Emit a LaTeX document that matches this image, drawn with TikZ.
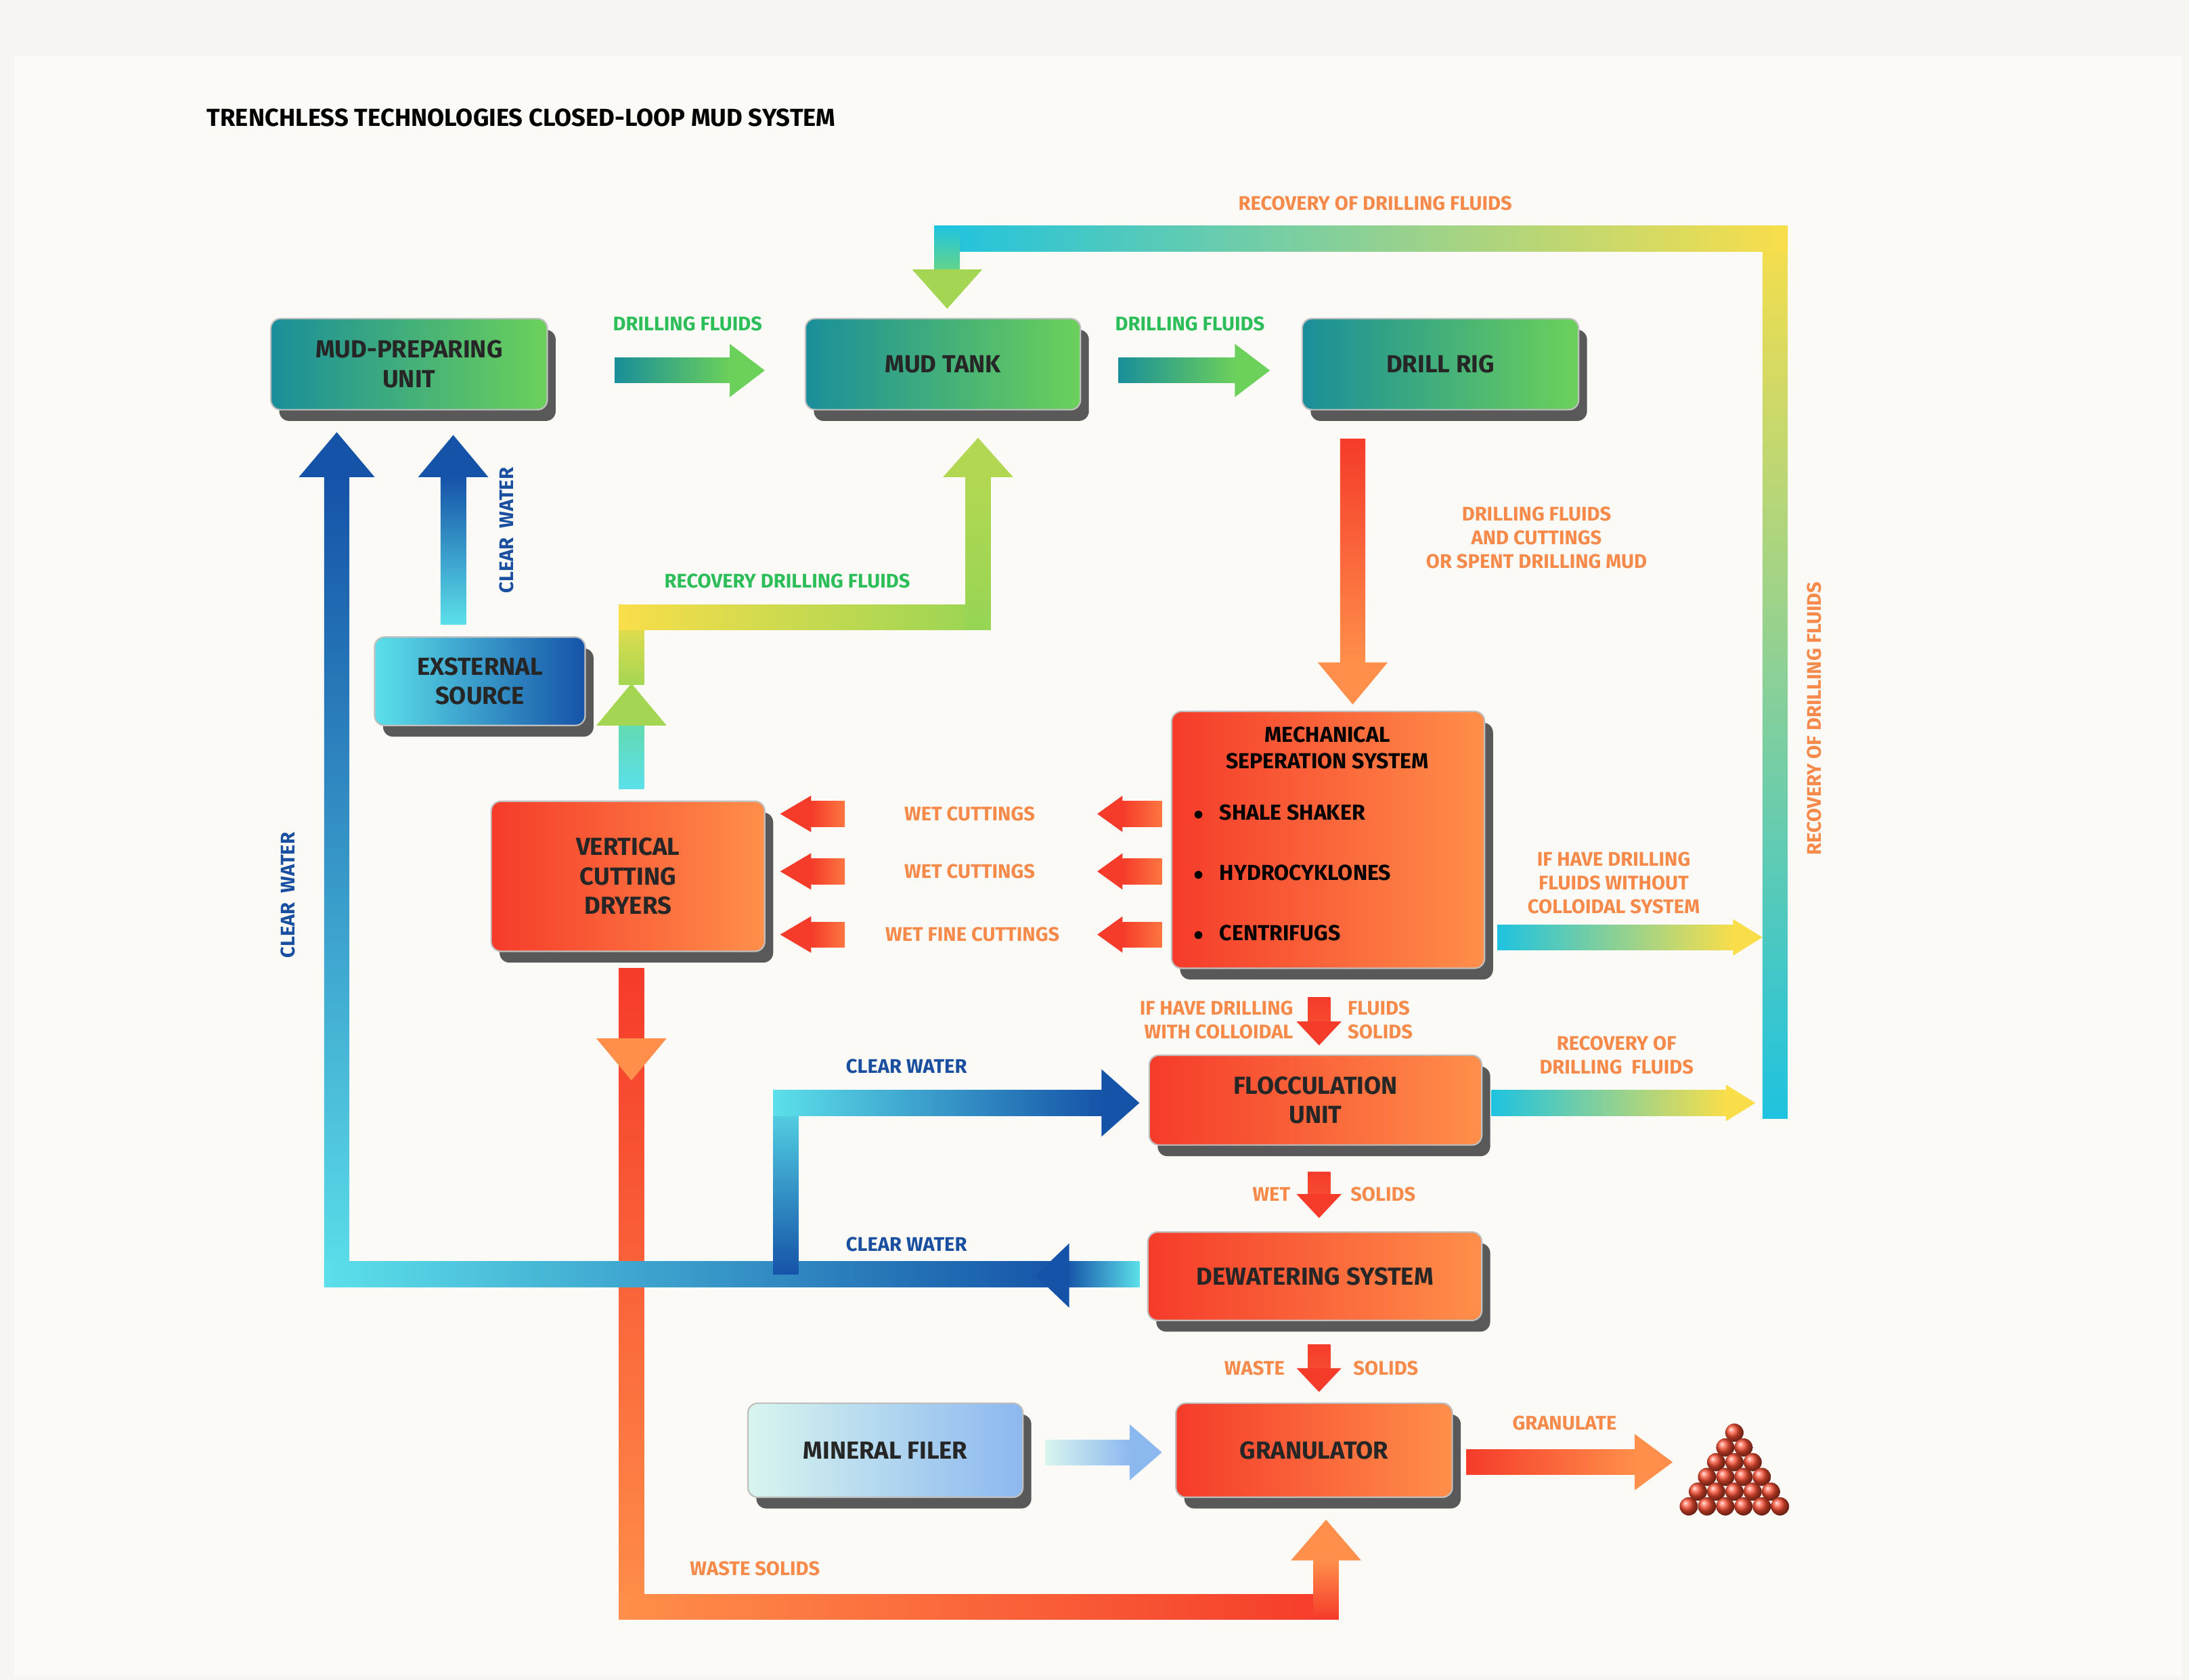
\documentclass[tikz,border=0pt]{standalone}
\usepackage{fontspec}
\setmainfont{Fira Sans}
\usetikzlibrary{shadows}
\definecolor{tl}{HTML}{1A8E9A}\definecolor{gn}{HTML}{6CD15A}
\definecolor{rd}{HTML}{F53B2A}\definecolor{og}{HTML}{FF8F4A}
\definecolor{db}{HTML}{1553A8}\definecolor{cy}{HTML}{5CE0EA}
\definecolor{yl}{HTML}{F9DE4A}\definecolor{lg}{HTML}{2DBE5A}
\definecolor{lo}{HTML}{F58A4A}\definecolor{lb}{HTML}{1A4FA0}
\definecolor{bc}{HTML}{1FC3E0}\definecolor{bg}{HTML}{F6F5F1}\definecolor{bgi}{HTML}{FBFAF7}
\definecolor{mn}{HTML}{D8F5EE}\definecolor{lbl}{HTML}{8CB8F0}
\newcommand\hb[5]{\shade[left color=#4,right color=#5] (#1,#3-9) rectangle (#2,#3+9);}
\newcommand\vb[5]{\shade[top color=#4,bottom color=#5] (#1-9,#2) rectangle (#1+9,#3);}
\newcommand\fsz[1]{\fontsize{#1pt}{1.2\dimexpr#1pt\relax}\selectfont\bfseries}
\tikzset{
 box/.style={rounded corners=10, draw=gray!50, line width=1.5pt, align=center,
   font=\fsz{25}, text=black!85, general shadow={fill=black!65, shadow xshift=0.3cm, shadow yshift=-0.4cm}},
 lab/.style={font=\fsz{20}, align=center}}
\begin{document}
\begin{tikzpicture}[x=0.05cm,y=-0.05cm]
\fill[bg] (0,0) rectangle (1560,1197);
\fill[bgi] (10,40) rectangle (1555,1195);
\node[anchor=west,font=\fsz{25}] (title) at (145,84) {TRENCHLESS TECHNOLOGIES CLOSED-LOOP MUD SYSTEM};
% --- arrows: top recovery loop
\vb{1265}{161}{797}{yl}{bc}
\hb{666}{1274}{170}{bc}{yl}
\vb{675}{161}{194}{bc}{gn!70!cy}
\fill[gn!60!yl] (650,192)--(700,192)--(675,220)--cycle;
% drilling fluids arrows
\hb{438}{521}{264}{tl}{gn}\fill[gn] (520,245)--(520,283)--(545,264)--cycle;
\hb{797}{881}{264}{tl}{gn}\fill[gn] (880,245)--(880,283)--(905,264)--cycle;
% drill rig down
\vb{964}{313}{473}{rd}{og}\fill[og] (939,472)--(989,472)--(964,502)--cycle;
% up from VCD
\vb{450}{516}{562}{gn!40!cy}{cy}
\fill[gn!60!yl] (425,517)--(475,517)--(450,487)--cycle;
\vb{450}{431}{488}{yl}{gn!60!yl}
\hb{441}{706}{440}{yl}{gn!70!yl}
\vb{697}{340}{449}{gn!50!yl}{gn!70!yl}
\fill[gn!50!yl] (672,340)--(722,340)--(697,312)--cycle;
% VCD down
\vb{450}{690}{1154}{rd}{og}
\fill[og] (425,740)--(475,740)--(450,770)--cycle;
\hb{441}{954}{1145}{og}{rd}
\vb{945}{1112}{1154}{og}{rd}
\fill[og] (920,1112)--(970,1112)--(945,1083)--cycle;
% blue big loop
\vb{240}{340}{917}{db}{cy}
\hb{231}{762}{908}{cy}{db}
\fill[db] (213,340)--(267,340)--(240,308)--cycle;
\hb{760}{812}{908}{db}{cy}
\fill[db] (762,886)--(762,932)--(738,909)--cycle;
% branch
\vb{560}{777}{908}{cy}{db}
\hb{551}{786}{786}{cy}{db}
\fill[db] (785,762)--(785,810)--(812,786)--cycle;
% external
\vb{323}{340}{445}{db}{cy}
\fill[db] (298,340)--(348,340)--(323,310)--cycle;
% wet cuttings arrows
\foreach \y in {580,621,666}{
 \hb{800}{828}{\y}{rd}{og!70!rd}\fill[rd] (800,\y-13)--(800,\y+13)--(782,\y)--cycle;
 \hb{578}{602}{\y}{rd}{og!70!rd}\fill[rd] (578,\y-13)--(578,\y+13)--(556,\y)--cycle;}
% small downs
\foreach \a/\b in {711/745,835/868,958/992}{
 \shade[top color=rd,bottom color=rd!80!og] (932,\a) rectangle (948,\b-16);
 \fill[rd] (924,\b-17)--(956,\b-17)--(940,\b)--cycle;}
% right arrows
\hb{1067}{1236}{668}{bc}{yl}\fill[yl] (1235,655)--(1235,681)--(1256,668)--cycle;
\hb{1063}{1231}{786}{bc}{yl}\fill[yl] (1230,773)--(1230,799)--(1251,786)--cycle;
% mineral, granulate
\shade[left color=mn,right color=lbl] (745,1026) rectangle (806,1044);
\fill[lbl] (805,1015)--(805,1055)--(828,1035)--cycle;
\hb{1045}{1166}{1042}{rd}{og}\fill[og] (1165,1022)--(1165,1062)--(1192,1042)--cycle;
% ball pile
\foreach \i in {0,...,5}{\foreach \j in {0,...,\i}{
 \shade[ball color=rd!80!og] ({1236+13*(\j-\i/2)},{1021+10.5*\i}) circle (6.5);}}
% --- boxes
\node[box,left color=tl,right color=gn,minimum width=9.85cm,minimum height=3.25cm] (mp) at (291.5,259.5) {MUD-PREPARING\\UNIT};
\node[box,left color=tl,right color=gn,minimum width=9.8cm,minimum height=3.25cm] (mt) at (672,259.5) {MUD TANK};
\node[box,left color=tl,right color=gn,minimum width=9.85cm,minimum height=3.25cm] (dr) at (1026.5,259.5) {DRILL RIG};
\node[box,left color=cy,right color=db,minimum width=7.5cm,minimum height=3.15cm] (ex) at (342,485.5) {EXSTERNAL\\SOURCE};
\node[box,left color=rd,right color=og,minimum width=9.75cm,minimum height=5.35cm] (vc) at (447.5,624.5) {VERTICAL\\CUTTING\\DRYERS};
\node[box,left color=rd,right color=og,minimum width=11.15cm,minimum height=9.15cm] (ms) at (946.5,598.5) {};
\node[font=\fsz{22},align=center] at (946,533) {MECHANICAL\\SEPERATION SYSTEM};
\node[font=\fsz{22},anchor=west] at (848,579) {$\bullet$\hspace{0.5em} SHALE SHAKER};
\node[font=\fsz{22},anchor=west] at (848,622) {$\bullet$\hspace{0.5em} HYDROCYKLONES};
\node[font=\fsz{22},anchor=west] at (848,665) {$\bullet$\hspace{0.5em} CENTRIFUGS};
\node[box,left color=rd,right color=og,minimum width=11.85cm,minimum height=3.2cm] (fl) at (937.5,784) {FLOCCULATION\\UNIT};
\node[box,left color=rd,right color=og,minimum width=11.9cm,minimum height=3.15cm] (dw) at (937,909.5) {DEWATERING SYSTEM};
\node[box,left color=rd,right color=og,minimum width=9.85cm,minimum height=3.35cm] (gr) at (936.5,1033.5) {GRANULATOR};
\node[box,left color=mn,right color=lbl,minimum width=9.8cm,minimum height=3.35cm] (mf) at (631,1033.5) {MINERAL FILER};
% --- labels
\node[lab,text=lg] at (490,231) {DRILLING FLUIDS};
\node[lab,text=lg] at (848,231) {DRILLING FLUIDS};
\node[lab,text=lo] at (980,145) {RECOVERY OF DRILLING FLUIDS};
\node[lab,text=lo,rotate=90] at (1293,512) {RECOVERY OF DRILLING FLUIDS};
\node[lab,text=lo] at (1095,383) {DRILLING FLUIDS\\AND CUTTINGS\\OR SPENT DRILLING MUD};
\node[lab,text=lg] at (561,414) {RECOVERY DRILLING FLUIDS};
\node[lab,text=lo] at (691,580) {WET CUTTINGS};
\node[lab,text=lo] at (691,621) {WET CUTTINGS};
\node[lab,text=lo] at (693,666) {WET FINE CUTTINGS};
\node[lab,text=lo] at (1150,629) {IF HAVE DRILLING\\FLUIDS WITHOUT\\COLLOIDAL SYSTEM};
\node[lab,text=lo,align=right,anchor=east] at (924,727) {IF HAVE DRILLING\\WITH COLLOIDAL};
\node[lab,text=lo,align=left,anchor=west] at (958,727) {FLUIDS\\SOLIDS};
\node[lab,text=lo] at (1152,752) {RECOVERY OF\\DRILLING\ \ FLUIDS};
\node[lab,text=lo,anchor=east] at (922,851) {WET};
\node[lab,text=lo,anchor=west] at (960,851) {SOLIDS};
\node[lab,text=lo,anchor=east] at (918,975) {WASTE};
\node[lab,text=lo,anchor=west] at (962,975) {SOLIDS};
\node[lab,text=lo] at (1115,1014) {GRANULATE};
\node[lab,text=lo] at (538,1118) {WASTE SOLIDS};
\node[lab,text=lb] at (646,760) {CLEAR WATER};
\node[lab,text=lb] at (646,887) {CLEAR WATER};
\node[lab,text=lb,rotate=90] at (205,638) {CLEAR\ \ WATER};
\node[lab,text=lb,rotate=90] at (361,378) {CLEAR\ \ WATER};
\end{tikzpicture}
\end{document}
